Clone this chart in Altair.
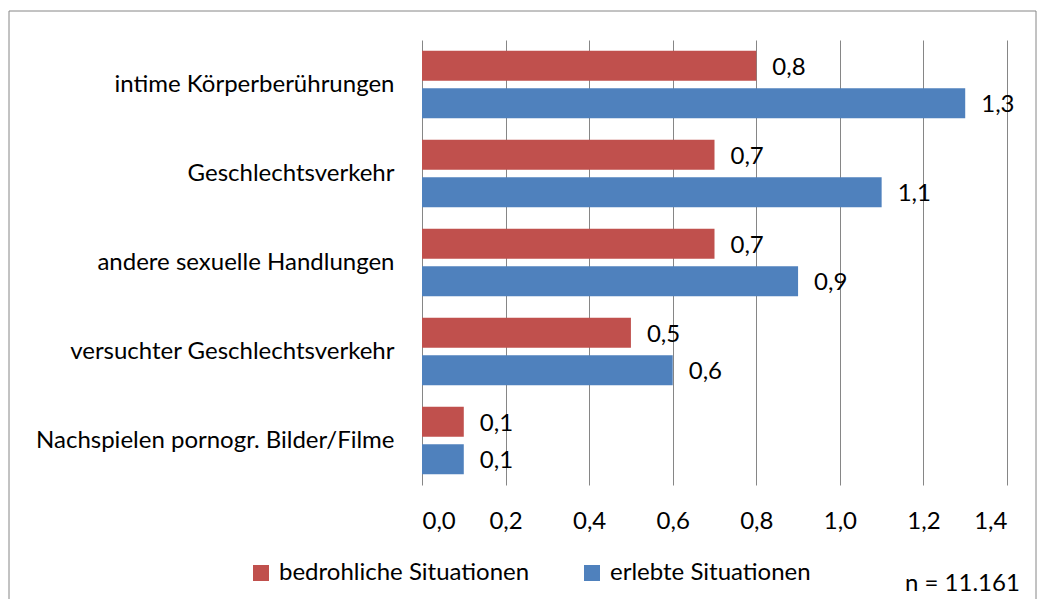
import altair as alt
import pandas as pd

categories = [
    "intime Körperberührungen",
    "Geschlechtsverkehr",
    "andere sexuelle Handlungen\u00a0",
    "versuchter Geschlechtsverkehr",
    "Nachspielen pornogr. Bilder/Filme",
]
bedrohlich = [0.8, 0.7, 0.7, 0.5, 0.1]
erlebt = [1.3, 1.1, 0.9, 0.6, 0.1]
series = ["bedrohliche Situationen", "erlebte Situationen"]
colors = ["#C0504D", "#4F81BD"]
x_ticks = [0.0, 0.2, 0.4, 0.6, 0.8, 1.0, 1.2, 1.4]
note = "n = 11.161"

rows = []
for c, b, e in zip(categories, bedrohlich, erlebt):
    rows.append({"cat": c, "series": series[0], "value": b})
    rows.append({"cat": c, "series": series[1], "value": e})
df = pd.DataFrame(rows)
df["label"] = df["value"].map(lambda v: f"{v:.1f}".replace(".", ","))

FONT = "Lato"
FS = 24
GRID = "#868686"

base = alt.Chart(df).encode(
    y=alt.Y(
        "cat:N",
        sort=categories,
        scale=alt.Scale(paddingInner=0.24, paddingOuter=0.12),
        axis=alt.Axis(
            title=None, ticks=False, domain=False, labelPadding=28,
            labelFont=FONT, labelFontSize=FS, labelColor="black", labelLimit=600,
        ),
    ),
    yOffset=alt.YOffset("series:N", sort=series, scale=alt.Scale(paddingInner=0.2, paddingOuter=0)),
    x=alt.X(
        "value:Q",
        scale=alt.Scale(domain=[0, 1.4], nice=False),
        axis=alt.Axis(
            title=None, values=x_ticks, grid=True, gridColor=GRID, gridWidth=1,
            ticks=False, tickSize=0, domain=False, labelPadding=36, labelBaseline="middle",
            labelExpr="replace(format(datum.value, '.1f'), '.', ',')",
            labelFont=FONT, labelFontSize=FS, labelColor="black",
        ),
    ),
)

bars = base.mark_bar().encode(
    color=alt.Color(
        "series:N",
        sort=series,
        scale=alt.Scale(domain=series, range=colors),
        legend=alt.Legend(
            orient="none", legendX=-173, legendY=521, direction="horizontal",
            title=None, symbolType="square", symbolSize=256, symbolStrokeWidth=0,
            labelFont=FONT, labelFontSize=FS, labelColor="black", labelLimit=600,
            columnPadding=50, labelOffset=6,
        ),
    )
)

labels = base.mark_text(align="left", baseline="middle", dx=16, dy=2, font=FONT, fontSize=FS, color="black").encode(
    text="label:N"
)

border = alt.Chart(pd.DataFrame({"a": [0]})).mark_rect(filled=False, stroke=GRID, strokeWidth=1).encode(
    x=alt.value(-413), x2=alt.value(614), y=alt.value(-29), y2=alt.value(620)
)

ntext = alt.Chart(pd.DataFrame({"t": [note]})).mark_text(
    align="left", baseline="alphabetic", font=FONT, fontSize=FS, color="black"
).encode(x=alt.value(483), y=alt.value(551), text="t:N")

chart = alt.layer(border, bars, labels, ntext).properties(
    width=585, height=445,
    padding={"left": 414, "top": 32, "right": 31, "bottom": 114},
    autosize=alt.AutoSizeParams(type="none"),
    background="white",
).configure_view(stroke=None)

chart.save("out.html", embed_options={"renderer": "svg", "actions": False})
